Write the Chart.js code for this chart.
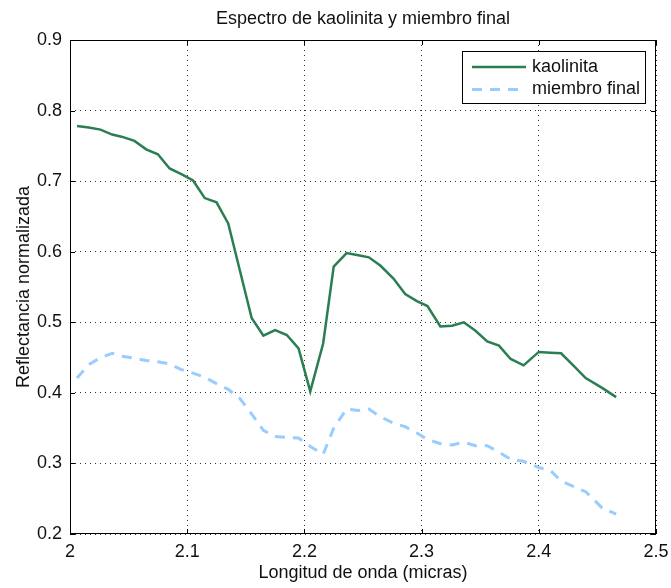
<!DOCTYPE html>
<html>
<head>
<meta charset="utf-8">
<script src="https://cdn.jsdelivr.net/npm/chart.js@4/dist/chart.umd.min.js"></script>
<style>
  html, body { margin: 0; padding: 0; background: #fff; }
  #chart { display: block; }
</style>
</head>
<body>
<canvas id="chart" width="671" height="588"></canvas>
<script>
const wavelengths = [2.006, 2.016, 2.026, 2.036, 2.044, 2.055, 2.065, 2.075, 2.085, 2.095,
  2.105, 2.115, 2.125, 2.135, 2.145, 2.155, 2.165, 2.175, 2.185, 2.195,
  2.205, 2.216, 2.225, 2.236, 2.246, 2.255, 2.265, 2.276, 2.286, 2.296,
  2.305, 2.316, 2.326, 2.336, 2.346, 2.356, 2.366, 2.376, 2.387, 2.400,
  2.410, 2.419, 2.430, 2.440, 2.454, 2.466];

const kaolinita = [0.778, 0.776, 0.773, 0.766, 0.763, 0.757, 0.745, 0.738, 0.718, 0.710,
  0.701, 0.676, 0.670, 0.640, 0.573, 0.506, 0.481, 0.489, 0.482, 0.463,
  0.402, 0.470, 0.579, 0.598, 0.595, 0.592, 0.580, 0.562, 0.540, 0.530,
  0.523, 0.494, 0.495, 0.500, 0.488, 0.473, 0.467, 0.448, 0.439, 0.458,
  0.457, 0.456, 0.438, 0.421, 0.407, 0.394];

const miembroFinal = [0.421, 0.440, 0.450, 0.456, 0.452, 0.449, 0.446, 0.444, 0.441, 0.433,
  0.428, 0.422, 0.413, 0.405, 0.392, 0.370, 0.347, 0.338, 0.337, 0.336,
  0.324, 0.313, 0.350, 0.377, 0.375, 0.377, 0.366, 0.357, 0.352, 0.343,
  0.334, 0.328, 0.326, 0.330, 0.325, 0.325, 0.316, 0.306, 0.303, 0.294,
  0.290, 0.275, 0.267, 0.260, 0.237, 0.228];

const xRange = [2.0, 2.5];
const yRange = [0.2, 0.9];
const tickStep = 0.1;

const FONT = 'Liberation Sans, Arial, Helvetica, sans-serif';
const colors = { kaolinita: '#2b7d52', miembro: '#99ccff', grid: '#333', text: '#111' };

const toPoints = (ys) => ys.map((y, i) => ({ x: wavelengths[i], y }));

// Caja, marcas interiores (estilo MATLAB) y leyenda dentro del área
const matlabBox = {
  id: 'matlabBox',
  afterDatasetsDraw(chart) {
    const { ctx, chartArea: a, scales } = chart;
    ctx.save();
    ctx.strokeStyle = '#000';
    ctx.lineWidth = 1;
    ctx.strokeRect(a.left + 0.5, a.top + 0.5, a.right - a.left - 1, a.bottom - a.top - 1);

    const len = 5;
    ctx.beginPath();
    scales.x.ticks.forEach((t) => {
      const px = Math.round(scales.x.getPixelForValue(t.value)) + 0.5;
      ctx.moveTo(px, a.bottom); ctx.lineTo(px, a.bottom - len);
      ctx.moveTo(px, a.top); ctx.lineTo(px, a.top + len);
    });
    scales.y.ticks.forEach((t) => {
      const py = Math.round(scales.y.getPixelForValue(t.value)) + 0.5;
      ctx.moveTo(a.left, py); ctx.lineTo(a.left + len, py);
      ctx.moveTo(a.right, py); ctx.lineTo(a.right - len, py);
    });
    ctx.stroke();

    // leyenda
    const bx = a.right - 194, by = a.top + 11, bw = 183, bh = 52;
    ctx.fillStyle = '#fff';
    ctx.fillRect(bx, by, bw, bh);
    ctx.strokeRect(bx + 0.5, by + 0.5, bw, bh);
    ctx.font = '18px ' + FONT;
    ctx.textBaseline = 'middle';
    ctx.fillStyle = colors.text;
    chart.data.datasets.forEach((ds, i) => {
      const y = by + 16 + i * 22.5;
      ctx.save();
      ctx.strokeStyle = ds.borderColor;
      ctx.lineWidth = ds.borderWidth;
      ctx.setLineDash(ds.borderDash || []);
      ctx.beginPath();
      ctx.moveTo(bx + 10, y);
      ctx.lineTo(bx + 64, y);
      ctx.stroke();
      ctx.restore();
      ctx.fillText(ds.label, bx + 70, y);
    });
    ctx.restore();
  },
};

new Chart(document.getElementById('chart'), {
  type: 'line',
  data: {
    datasets: [
      {
        label: 'kaolinita',
        data: toPoints(kaolinita),
        borderColor: colors.kaolinita,
        borderWidth: 2.5,
        pointRadius: 0,
        tension: 0,
        fill: false,
      },
      {
        label: 'miembro final',
        data: toPoints(miembroFinal),
        borderColor: colors.miembro,
        borderWidth: 3,
        borderDash: [10, 8],
        pointRadius: 0,
        tension: 0,
        fill: false,
      },
    ],
  },
  options: {
    responsive: false,
    devicePixelRatio: 1,
    animation: false,
    layout: { padding: { top: 0, right: 15, left: 0, bottom: 0 } },
    plugins: {
      legend: { display: false },
      tooltip: { enabled: false },
      title: {
        display: true,
        text: 'Espectro de kaolinita y miembro final',
        fullSize: false,
        color: colors.text,
        font: { family: FONT, size: 18, weight: 'normal' },
        padding: { top: 8, bottom: 10.4 },
      },
    },
    scales: {
      x: {
        type: 'linear',
        min: xRange[0],
        max: xRange[1],
        afterFit: (s) => { s.height = 54; s.paddingLeft = 0; s.paddingRight = 0; },
        ticks: {
          stepSize: tickStep,
          color: colors.text,
          padding: 7,
          maxRotation: 0,
          font: { family: FONT, size: 18 },
          callback: (v) => Number(v).toFixed(1).replace(/\.0$/, ''),
        },
        grid: { color: colors.grid, lineWidth: 1, drawTicks: false },
        border: { display: false, dash: [1, 4] },
        title: {
          display: true,
          text: 'Longitud de onda (micras)',
          color: colors.text,
          font: { family: FONT, size: 18 },
          padding: { top: 0, bottom: 4 },
        },
      },
      y: {
        type: 'linear',
        min: yRange[0],
        max: yRange[1],
        afterFit: (s) => { s.width = 70; },
        ticks: {
          stepSize: tickStep,
          color: colors.text,
          padding: 8,
          font: { family: FONT, size: 18 },
          callback: (v) => Number(v).toFixed(1),
        },
        grid: { color: colors.grid, lineWidth: 1, drawTicks: false },
        border: { display: false, dash: [1, 4] },
        title: {
          display: true,
          text: 'Reflectancia normalizada',
          color: colors.text,
          font: { family: FONT, size: 18 },
          padding: { top: 13, bottom: 0 },
        },
      },
    },
  },
  plugins: [matlabBox],
});
</script>
</body>
</html>
